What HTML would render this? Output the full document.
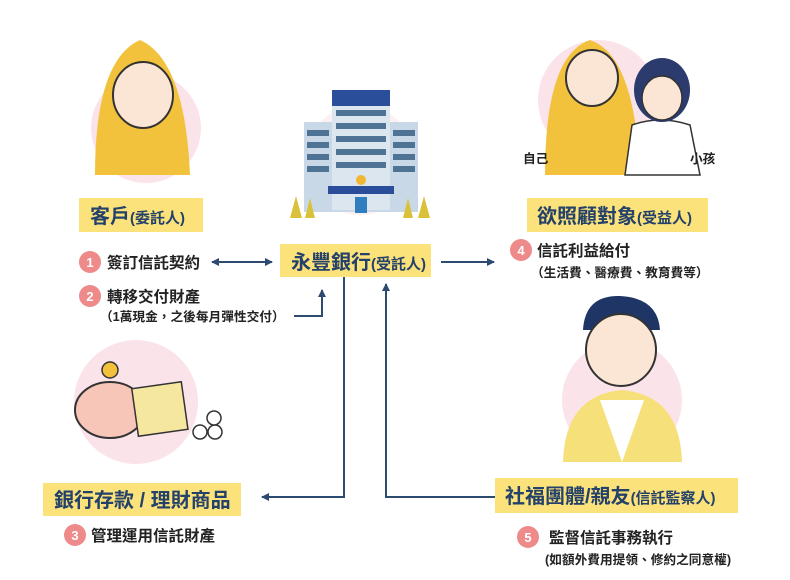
<!DOCTYPE html>
<html><head><meta charset="utf-8"><style>
body{margin:0;background:#fff;}
svg{display:block}
text{font-family:"Liberation Sans","Noto Sans CJK TC",sans-serif;}
.b{font-weight:bold;fill:#24416a}
.t{font-weight:bold;fill:#222;font-size:15.5px}
.s{font-weight:bold;fill:#222;font-size:12.7px}
.n{fill:#fff;font-weight:bold;font-size:13px;text-anchor:middle}
</style></head><body>
<svg width="790" height="580" viewBox="0 0 790 580">
<defs><marker id="a" markerWidth="8" markerHeight="8" refX="7" refY="4" orient="auto" markerUnits="userSpaceOnUse"><path d="M0,0 L8,4 L0,8 Z" fill="#2d4a70"/></marker>
<marker id="as" markerWidth="8" markerHeight="8" refX="1" refY="4" orient="auto" markerUnits="userSpaceOnUse"><path d="M8,0 L0,4 L8,8 Z" fill="#2d4a70"/></marker></defs>
<circle cx="146" cy="128" r="55" fill="#fbe3ea"/>
<circle cx="360" cy="160" r="55" fill="#fdf0f3"/>
<circle cx="598" cy="100" r="60" fill="#fbe3ea"/>
<circle cx="136" cy="402" r="62" fill="#fbe3ea"/>
<circle cx="622" cy="400" r="60" fill="#fbe3ea"/>
<path d="M95,175 Q95,60 140,40 Q185,60 190,175 Z" fill="#f2c23c"/>
<ellipse cx="143" cy="95" rx="30" ry="33" fill="#fbe6d6" stroke="#333" stroke-width="2"/>
<rect x="304" y="122" width="114" height="90" fill="#c9d8e6"/>
<rect x="332" y="90" width="58" height="120" fill="#dbe6ef"/>
<rect x="332" y="90" width="58" height="16" fill="#2a4e9a"/>
<rect x="328" y="186" width="66" height="8" fill="#2a4e9a"/>
<g fill="#4f7394"><rect x="336" y="110" width="50" height="6"/><rect x="336" y="123" width="50" height="6"/><rect x="336" y="136" width="50" height="6"/><rect x="336" y="149" width="50" height="6"/><rect x="336" y="162" width="50" height="6"/>
<rect x="307" y="130" width="22" height="6"/><rect x="307" y="142" width="22" height="6"/><rect x="307" y="154" width="22" height="6"/><rect x="307" y="166" width="22" height="6"/><rect x="393" y="130" width="22" height="6"/><rect x="393" y="142" width="22" height="6"/><rect x="393" y="154" width="22" height="6"/><rect x="393" y="166" width="22" height="6"/></g>
<rect x="355" y="197" width="12" height="16" fill="#2f7fc0"/>
<circle cx="361" cy="180" r="5" fill="#f2b632"/>
<g fill="#d9c23a"><path d="M290,218 L296,196 L302,218Z"/><path d="M418,218 L424,196 L430,218Z"/><path d="M305,218 L310,198 L315,218Z"/><path d="M403,218 L408,198 L413,218Z"/></g>
<path d="M545,175 Q545,55 590,40 Q635,55 640,175 Z" fill="#f2c23c"/>
<ellipse cx="592" cy="78" rx="26" ry="28" fill="#fbe6d6" stroke="#333" stroke-width="2"/>
<path d="M625,175 L632,125 Q660,115 690,125 L700,175Z" fill="#fff" stroke="#333" stroke-width="1.5"/>
<ellipse cx="662" cy="90" rx="28" ry="32" fill="#2b3b6e"/>
<ellipse cx="662" cy="98" rx="20" ry="22" fill="#fbe6d6" stroke="#333" stroke-width="1.5"/>
<text x="523" y="163" class="s" font-size="12">自己</text>
<text x="690" y="163" class="s" font-size="12">小孩</text>
<ellipse cx="110" cy="410" rx="35" ry="28" fill="#f7c6b8" stroke="#333" stroke-width="2"/>
<rect x="135" y="385" width="50" height="48" fill="#f6e7a0" stroke="#333" stroke-width="1.5" transform="rotate(-8 160 410)"/>
<circle cx="110" cy="370" r="8" fill="#f2c23c" stroke="#333" stroke-width="1.5"/>
<circle cx="200" cy="432" r="7" fill="#fff" stroke="#333" stroke-width="1.5"/><circle cx="215" cy="432" r="7" fill="#fff" stroke="#333" stroke-width="1.5"/><circle cx="214" cy="418" r="7" fill="#fff" stroke="#333" stroke-width="1.5"/>
<path d="M563,462 Q565,395 622,390 Q680,395 682,462Z" fill="#f6e07a"/>
<path d="M600,400 L622,462 L644,400Z" fill="#fff"/>
<path d="M583,330 Q585,295 620,296 Q658,298 660,330Z" fill="#1e3566"/>
<ellipse cx="621" cy="350" rx="35" ry="36" fill="#fbe6d6" stroke="#333" stroke-width="2"/>
<rect x="79" y="198" width="124" height="34" fill="#fbe27a"/>
<text x="90" y="223" class="b" font-size="20">客戶<tspan font-size="15">(委託人)</tspan></text>
<rect x="280" y="244" width="151" height="33" fill="#fbe27a"/>
<text x="291" y="269" class="b" font-size="20">永豐銀行<tspan font-size="15">(受託人)</tspan></text>
<rect x="527" y="198" width="181" height="34" fill="#fbe27a"/>
<text x="537" y="223" class="b" font-size="20">欲照顧對象<tspan font-size="15">(受益人)</tspan></text>
<rect x="43" y="483" width="198" height="33" fill="#fbe27a"/>
<text x="54" y="507" class="b" font-size="20">銀行存款 / 理財商品</text>
<rect x="495" y="478" width="243" height="35" fill="#fbe27a"/>
<text x="505" y="503" class="b" font-size="20">社福團體/親友<tspan font-size="15">(信託監察人)</tspan></text>
<circle cx="90" cy="262" r="11" fill="#ee8a8a"/><text x="90" y="267" class="n">1</text>
<text x="107" y="268" class="t">簽訂信託契約</text>
<circle cx="90" cy="296" r="11" fill="#ee8a8a"/><text x="90" y="301" class="n">2</text>
<text x="107" y="302" class="t">轉移交付財產</text>
<text x="100" y="321" class="s">（1萬現金，之後每月彈性交付）</text>
<circle cx="521" cy="250" r="11" fill="#ee8a8a"/><text x="521" y="255" class="n">4</text>
<text x="537" y="256" class="t">信託利益給付</text>
<text x="531" y="277" class="s" font-size="13.3">（生活費、醫療費、教育費等）</text>
<circle cx="75" cy="535" r="11" fill="#ee8a8a"/><text x="75" y="540" class="n">3</text>
<text x="91" y="541" class="t">管理運用信託財產</text>
<circle cx="528" cy="537" r="11" fill="#ee8a8a"/><text x="528" y="542" class="n">5</text>
<text x="549" y="543" class="t">監督信託事務執行</text>
<text x="545" y="564" class="s">(如額外費用提領、修約之同意權)</text>
<g stroke="#2d4a70" stroke-width="2" fill="none">
<line x1="212" y1="262" x2="272" y2="262" marker-start="url(#as)" marker-end="url(#a)"/>
<line x1="441" y1="262" x2="494" y2="262" marker-end="url(#a)"/>
<polyline points="294,316 322,316 322,290" marker-end="url(#a)"/>
<polyline points="344,277 344,497 262,497" marker-end="url(#a)"/>
<polyline points="495,497 386,497 386,284" marker-end="url(#a)"/>
</g>
</svg>
</body></html>
